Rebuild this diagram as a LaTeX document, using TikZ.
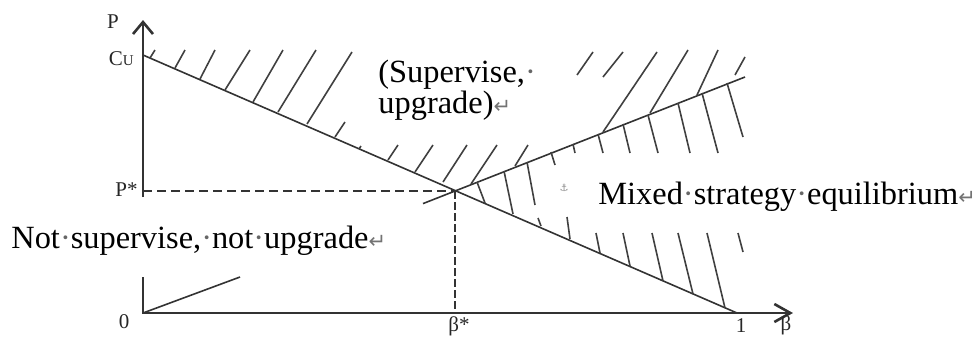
\documentclass[tikz,border=0pt]{standalone}
\usepackage{fontspec}
\setmainfont{Liberation Serif}
\newfontfamily\symf{DejaVu Sans}
\usetikzlibrary{arrows.meta}
\newcommand{\retsym}{{\symf\color{black!55}\fontsize{10.5}{10.5}\selectfont ↵}}
\newcommand{\spdot}{{\color{black!60}·}}
\begin{document}
\begin{tikzpicture}[x=0.5pt,y=-0.5pt,
  ax/.style={line width=1.3pt, draw=black!80},
  ln/.style={line width=0.8pt, draw=black!80},
  hatch/.style={line width=0.8pt, draw=black!75},
  dshh/.style={line width=0.8pt, draw=black!80, dash pattern=on 4.5pt off 2.5pt},
  dshv/.style={line width=0.8pt, draw=black!80, dash pattern=on 4pt off 1.5pt},
  lbl/.style={font=\fontsize{10.5}{10.5}\selectfont, inner sep=0pt, text=black!85},
  txt/.style={font=\fontsize{16.2}{16.2}\selectfont, inner sep=0pt, anchor=base west}]
\useasboundingbox (0,0) rectangle (975,338);
% key points
\coordinate (O) at (143,313);
\coordinate (Ytop) at (143,20);
\coordinate (Ygap1) at (143,197);
\coordinate (Ygap2) at (143,277);
\coordinate (Xend) at (793,313);
\coordinate (Cu) at (143,55);
\coordinate (One) at (737,313);
\coordinate (E) at (455,191);
\coordinate (Ps) at (143,191);
\coordinate (Bs) at (455,313);
\coordinate (L2a) at (423,203.6);
\coordinate (L2b) at (745,77);
\coordinate (L0b) at (240,277);
% axes
\draw[ax, -{Straight Barb[length=6pt,width=10pt]}] (Ygap1) -- (Ytop);
\draw[ax, -{Straight Barb[length=8pt,width=9pt]}] (Ygap2) -- (O) -- (Xend);
% lines
\draw[ln] (Cu) -- (One);
\draw[ln] (L2a) -- (L2b);
\draw[ln] (O) -- (L0b);
\draw[dshh] (Ps) -- (E);
\draw[dshv] (E) -- (Bs);
% hatching above the lines
\foreach \a/\b/\c/\d in {150/58/155/50, 175/68/185/50, 200/79/215/50, 225/90/250/50,
  253/102/283/50, 278/112/316/50, 307/124/352/52,
  335/137/345/122, 359/149/361/146, 388/160/398/145, 415/172/433/145, 443/182/467/145,
  471/184/497/145, 515/166/528/145,
  577/75/593/52, 603/77/623/52, 603/132/657/52, 650/113/688/50, 697/95/718/50, 735/75/745/57}
  \draw[hatch] (\a,\b) -- (\c,\d);
% hatching of the mixed region
\foreach \a/\b/\c/\d in {477/182/485/203, 504/171/513/214, 527/162/535/205, 538/218/541/226,
  551/152/555/165, 567/217/570/239, 573/144/575/153, 596/233/600/253,
  598/134/603/153, 623/233/630/266, 623/124/630/153, 652/233/663/281,
  648/115/658/153, 678/233/693/294, 678/103/690/153, 707/233/725/308,
  702/93/718/153, 738/233/743/252, 727/83/743/137}
  \draw[hatch] (\a,\b) -- (\c,\d);
% axis labels
\node[lbl] (lP) at (113,22) {P};
\node[lbl, anchor=east] (lCu) at (134,59) {C{\fontsize{7.5}{7.5}\selectfont U}};
\node[lbl, anchor=east] (lPs) at (138,190) {P*};
\node[lbl] (l0) at (124,322) {0};
\node[lbl] (lBs) at (459,326) {β*};
\node[lbl] (l1) at (741,326) {1};
\node[lbl] (lB) at (786,325) {β};
% region texts
\node[txt] (sup1) at (378,82) {(Supervise,\spdot};
\node[txt] (sup2) at (378,113) {upgrade)\retsym};
\node[txt] (nsu) at (11,248) {Not\spdot supervise,\spdot not\spdot upgrade\retsym};
\node[txt] (mix) at (598,204) {Mixed\spdot strategy\spdot equilibrium\retsym};
\node[font=\symf\fontsize{5}{5}\selectfont, text=black!45, inner sep=0pt] (anc) at (564,188) {⚓};
\end{tikzpicture}
\end{document}
